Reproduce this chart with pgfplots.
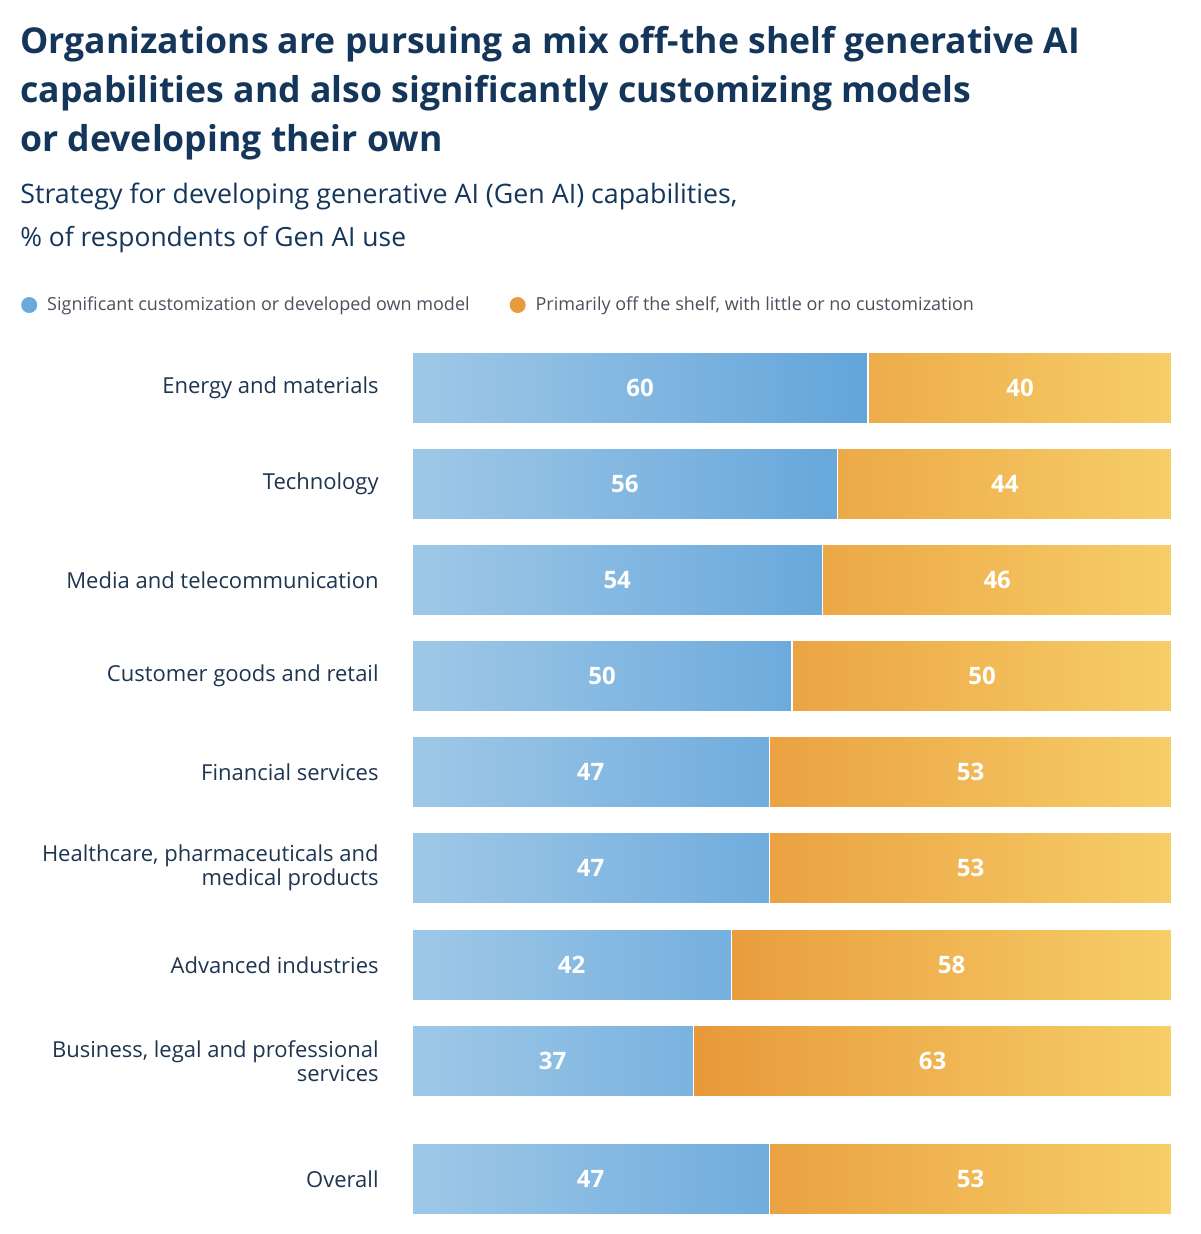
\documentclass[border=0pt]{standalone}
\usepackage{pgfplots}
\pgfplotsset{compat=1.18}
\usepackage{fontspec}
\setmainfont{Open Sans}
\definecolor{navy}{HTML}{13365A}
\definecolor{labnavy}{HTML}{1E3550}
\definecolor{leggray}{HTML}{4A505C}
\definecolor{blueL}{HTML}{9FC8E7}
\definecolor{blueD}{HTML}{63A5DA}
\definecolor{orangeD}{HTML}{E8993A}
\definecolor{orangeL}{HTML}{F6CE68}
\definecolor{legblue}{HTML}{6AA9DC}
\definecolor{legorange}{HTML}{E89B3C}
\begin{document}
\begin{tikzpicture}
\path[use as bounding box] (0pt,0pt) rectangle (600pt,-617pt);
\node[anchor=base west, inner sep=0pt, text=navy, font=\fontsize{17.8}{24}\selectfont\bfseries] at (10pt,-27pt) {Organizations are pursuing a mix off-the shelf generative AI};
\node[anchor=base west, inner sep=0pt, text=navy, font=\fontsize{17.8}{24}\selectfont\bfseries] at (10pt,-51.5pt) {capabilities and also significantly customizing models};
\node[anchor=base west, inner sep=0pt, text=navy, font=\fontsize{17.8}{24}\selectfont\bfseries] at (10pt,-76pt) {or developing their own};
\node[anchor=base west, inner sep=0pt, text=navy, font=\fontsize{13.4}{15}\selectfont] at (10pt,-102pt) {Strategy for developing generative AI (Gen AI) capabilities,};
\node[anchor=base west, inner sep=0pt, text=navy, font=\fontsize{13.2}{15}\selectfont] at (10pt,-123.5pt) {\% of respondents of Gen AI use};
\begin{axis}[
  at={(206pt,-607pt)}, anchor=south west,
  scale only axis, width=380pt, height=431pt,
  xmin=0, xmax=100, ymin=352, ymax=1214, y dir=reverse,
  enlargelimits=false, clip=false,
  xbar stacked, bar width=35.5pt,
  axis line style={draw=none}, tick style={draw=none},
  xtick=\empty,
  ytick={388,484,580,676,772,868,965,1061,1179},
  yticklabels={Energy and materials,Technology,Media and telecommunication,Customer goods and retail,Financial services,{Healthcare, pharmaceuticals and\\medical products},Advanced industries,{Business, legal and professional\\services},Overall},
  yticklabel style={align=right, text=labnavy, font=\fontsize{11}{12}\selectfont, inner sep=0pt, xshift=-16.5pt},
  legend columns=2,
  legend style={draw=none, fill=none, at={(-0.5226,1.0545)}, anchor=west,
    font=\fontsize{9}{10}\selectfont, text=leggray,
    /tikz/every even column/.append style={column sep=18pt}},
  /pgf/number format/assume math mode=true,
  point meta=rawx,
  nodes near coords={\pgfmathprintnumber{\pgfplotspointmeta}},
  every node near coord/.append style={anchor=center, text=white, font=\fontsize{12}{14}\selectfont\bfseries},
]
\addplot[left color=blueL, right color=blueD, draw=white, line width=0.6pt,
  legend image code/.code={\pgfpathcircle{\pgfpoint{0pt}{0pt}}{4pt}\pgfsetfillcolor{legblue}\pgfusepath{fill}\pgfpathmoveto{\pgfpoint{-4pt}{0pt}}\pgfpathlineto{\pgfpoint{7pt}{0pt}}\pgfusepath{}}]
  coordinates {(60,388) (56,484) (54,580) (50,676) (47,772) (47,868) (42,965) (37,1061) (47,1179)};
\addplot[left color=orangeD, right color=orangeL, draw=white, line width=0.6pt,
  legend image code/.code={\pgfpathcircle{\pgfpoint{0pt}{0pt}}{4pt}\pgfsetfillcolor{legorange}\pgfusepath{fill}\pgfpathmoveto{\pgfpoint{-4pt}{0pt}}\pgfpathlineto{\pgfpoint{7pt}{0pt}}\pgfusepath{}}]
  coordinates {(40,388) (44,484) (46,580) (50,676) (53,772) (53,868) (58,965) (63,1061) (53,1179)};
\legend{Significant customization or developed own model, {Primarily off the shelf, with little or no customization}}
\end{axis}
\end{tikzpicture}
\end{document}
